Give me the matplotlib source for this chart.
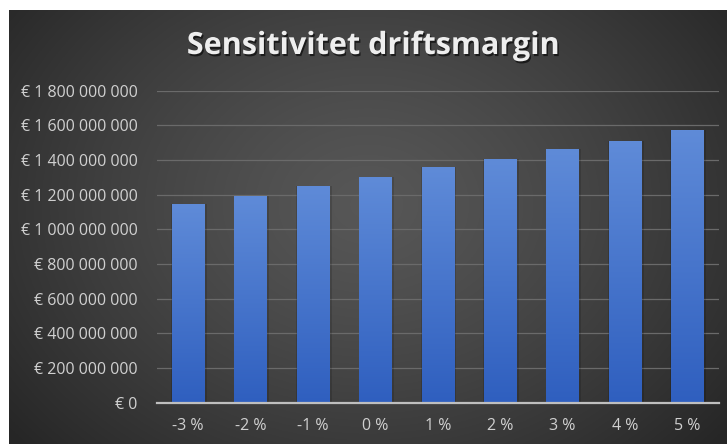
import numpy as np
import matplotlib
matplotlib.use("Agg")
import matplotlib.pyplot as plt
import matplotlib.patheffects as pe
from matplotlib.ticker import FuncFormatter, MultipleLocator

categories = ["-3 %", "-2 %", "-1 %", "0 %", "1 %", "2 %", "3 %", "4 %", "5 %"]
margin = [1146e6, 1195e6, 1253e6, 1300e6, 1360e6, 1406e6, 1463e6, 1511e6, 1571e6]
title = "Sensitivitet driftsmargin"

W, H = 727, 444
fig = plt.figure(figsize=(W / 100, H / 100), dpi=100, facecolor="white")

# dark radial backdrop for the chart area
bg = fig.add_axes([9 / W, 0, 1 - 9 / W, (H - 10) / H])
bg.set_axis_off()
yy, xx = np.mgrid[0:1:300j, 0:1:500j]
r = np.sqrt(((xx - 0.5) / 0.62) ** 2 + ((yy - 0.55) / 0.8) ** 2)
shade = np.clip(0.34 - 0.18 * r ** 1.3, 0.15, 0.34)
bg.imshow(np.dstack([shade] * 3), extent=[0, 1, 0, 1], aspect="auto", origin="lower")

ax = fig.add_axes([157 / W, (H - 402.7) / H, (718.5 - 157) / W, (402.7 - 90.7) / H])
ax.patch.set_alpha(0)

x = np.arange(len(categories))
bars = ax.bar(x, margin, width=0.52, color="#4a78d0", zorder=3)

# soft shadow and vertical gradient on each bar
grad = np.linspace(0, 1, 256).reshape(-1, 1)
cmap = matplotlib.colors.LinearSegmentedColormap.from_list("bar", ["#2f5fbf", "#5f8bd8"])
for b in bars:
    x0, w, h = b.get_x(), b.get_width(), b.get_height()
    ax.bar(x0 + w / 2 + 0.015, h, width=w + 0.05, color="black", alpha=0.14, zorder=2)
    im = ax.imshow(grad, extent=[x0, x0 + w, 0, h], origin="lower", cmap=cmap,
                   aspect="auto", zorder=4)
    im.set_clip_path(b)

ax.set_xlim(-0.5, len(categories) - 0.5)
ax.set_ylim(0, 1.8e9)
ax.yaxis.set_major_locator(MultipleLocator(2e8))
ax.yaxis.set_major_formatter(FuncFormatter(lambda v, p: "€ " + f"{v:,.0f}".replace(",", " ")))
ax.set_xticks(x, categories)

ax.grid(axis="y", color="#6a6a6a", linewidth=0.9, zorder=0)
for s in ["top", "right", "left"]:
    ax.spines[s].set_visible(False)
ax.spines["bottom"].set_color("#bfbfbf")
ax.spines["bottom"].set_linewidth(1.6)
ax.spines["bottom"].set_zorder(5)
ax.tick_params(length=0, colors="#d0d0d0", labelsize=11.5)
ax.tick_params(axis="y", pad=14)
ax.tick_params(axis="x", pad=11)
for lab in ax.get_xticklabels() + ax.get_yticklabels():
    lab.set_fontfamily("Open Sans")

fig.text(0.513, (H - 46) / H, title, ha="center", va="center", color="#eeeeee",
         fontsize=22, fontweight="bold", fontfamily="Open Sans",
         path_effects=[pe.SimplePatchShadow(offset=(1, -1.5), shadow_rgbFace="black", alpha=0.6),
                       pe.Normal()])

fig.savefig("out.png", dpi=100, facecolor="white")
